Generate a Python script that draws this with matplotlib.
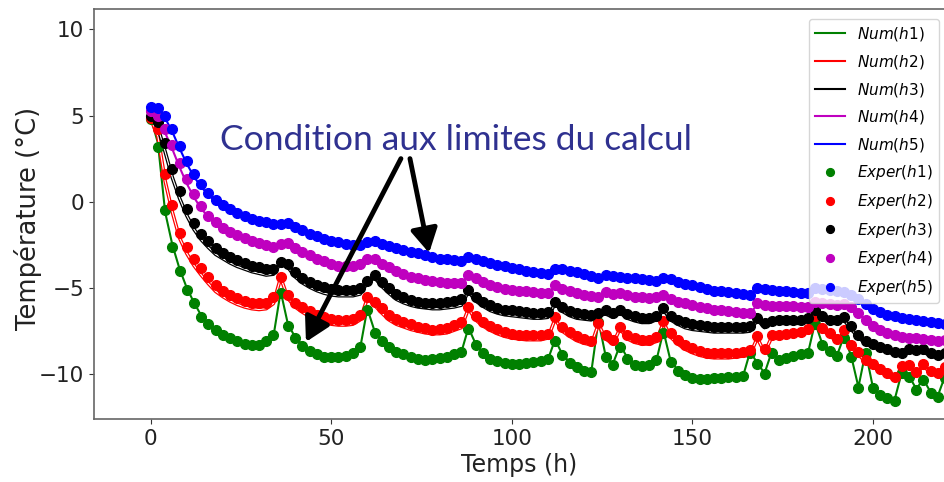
import matplotlib
matplotlib.use("Agg")
import matplotlib.pyplot as plt
import numpy as np

# sampling times (h) shared by all probes
temps = np.arange(0, 222, 2)

# measured temperatures (degC), probes h1..h5
exper_h1 = [4.8, 3.2, -0.5, -2.6, -4.0, -5.1, -5.9, -6.7, -7.1, -7.45,
            -7.7, -7.9, -8.1, -8.25, -8.3, -8.3, -8.1, -7.7, -5.3, -7.2,
            -7.9, -8.35, -8.65, -8.85, -9.0, -9.0, -9.0, -8.95, -8.75, -8.4,
            -6.3, -7.6, -8.1, -8.4, -8.7, -8.85, -9.0, -9.1, -9.15, -9.1,
            -9.05, -9.0, -8.85, -8.7, -7.4, -8.3, -8.8, -9.1, -9.25, -9.35,
            -9.4, -9.4, -9.35, -9.3, -9.25, -9.1, -8.1, -8.9, -9.35, -9.6,
            -9.8, -9.9, -6.95, -9.0, -9.45, -8.4, -9.1, -9.45, -9.55, -9.45,
            -9.2, -7.6, -9.3, -9.8, -10.05, -10.25, -10.3, -10.3, -10.25, -10.2,
            -10.15, -10.15, -10.1, -8.8, -9.4, -10.0, -8.8, -9.2, -9.05, -8.95,
            -8.85, -8.75, -7.1, -8.3, -8.65, -8.95, -7.9, -9.0, -10.8, -8.8,
            -10.8, -11.2, -11.4, -11.55, -9.95, -10.15, -10.9, -10.35, -11.1, -11.3,
            -10.2]
exper_h2 = [4.85, 4.2, 1.6, -0.2, -1.8, -2.6, -3.3, -3.85, -4.35, -4.85,
            -5.15, -5.4, -5.6, -5.75, -5.85, -5.9, -5.85, -5.5, -4.35, -5.4,
            -5.85, -6.1, -6.35, -6.55, -6.7, -6.8, -6.85, -6.85, -6.8, -6.55,
            -5.5, -5.8, -6.15, -6.55, -6.8, -6.95, -7.1, -7.25, -7.35, -7.45,
            -7.4, -7.3, -7.15, -7.0, -6.1, -6.6, -6.95, -7.2, -7.4, -7.55,
            -7.65, -7.7, -7.75, -7.75, -7.75, -7.65, -6.7, -7.25, -7.55, -7.8,
            -7.95, -8.1, -7.05, -7.7, -8.0, -7.25, -7.7, -7.9, -8.0, -8.0,
            -7.85, -6.9, -7.6, -8.0, -8.3, -8.5, -8.65, -8.75, -8.8, -8.8,
            -8.8, -8.75, -8.7, -8.6, -7.8, -8.55, -7.75, -7.7, -7.65, -7.6,
            -7.55, -7.4, -6.6, -7.3, -7.6, -7.95, -7.45, -8.3, -8.7, -9.15,
            -9.4, -9.7, -9.95, -10.15, -9.5, -9.45, -9.85, -9.4, -9.8, -9.95,
            -9.6]
exper_h3 = [5.0, 4.6, 3.4, 1.9, 0.65, -0.4, -1.25, -1.85, -2.3, -2.7,
            -2.95, -3.2, -3.4, -3.55, -3.7, -3.8, -3.9, -3.9, -3.5, -3.6,
            -4.1, -4.4, -4.65, -4.85, -4.95, -5.05, -5.1, -5.1, -5.1, -5.0,
            -4.6, -4.25, -4.65, -5.0, -5.35, -5.55, -5.7, -5.8, -5.85, -5.9,
            -5.85, -5.8, -5.75, -5.65, -5.1, -5.5, -5.8, -6.0, -6.15, -6.25,
            -6.3, -6.35, -6.4, -6.45, -6.45, -6.4, -5.8, -6.1, -6.35, -6.45,
            -6.5, -6.55, -6.45, -6.3, -6.45, -6.3, -6.5, -6.65, -6.75, -6.75,
            -6.6, -6.15, -6.6, -6.85, -7.0, -7.1, -7.15, -7.2, -7.25, -7.25,
            -7.25, -7.25, -7.25, -7.2, -6.75, -7.05, -6.9, -6.85, -6.85, -6.85,
            -6.85, -6.75, -6.3, -6.6, -6.85, -6.85, -6.7, -7.2, -7.7, -8.1,
            -8.25, -8.4, -8.55, -8.7, -8.75, -8.55, -8.6, -8.55, -8.8, -8.9,
            -8.8]
exper_h4 = [5.25, 5.0, 4.2, 3.3, 2.25, 1.3, 0.45, -0.25, -0.8, -1.2,
            -1.5, -1.75, -1.95, -2.1, -2.25, -2.4, -2.5, -2.6, -2.45, -2.4,
            -2.7, -2.9, -3.1, -3.3, -3.45, -3.6, -3.7, -3.75, -3.7, -3.6,
            -3.35, -3.3, -3.6, -3.8, -4.0, -4.2, -4.35, -4.45, -4.55, -4.6,
            -4.65, -4.7, -4.7, -4.7, -4.25, -4.45, -4.65, -4.8, -4.95, -5.05,
            -5.1, -5.15, -5.2, -5.25, -5.3, -5.3, -4.85, -5.05, -5.2, -5.3,
            -5.4, -5.45, -5.5, -5.25, -5.35, -5.3, -5.4, -5.5, -5.55, -5.6,
            -5.55, -5.4, -5.65, -5.8, -5.9, -6.0, -6.1, -6.15, -6.25, -6.3,
            -6.35, -6.4, -6.45, -6.45, -5.9, -6.0, -6.05, -6.05, -6.05, -6.05,
            -6.1, -6.1, -5.8, -5.9, -5.95, -6.0, -5.95, -6.1, -6.45, -6.85,
            -7.2, -7.45, -7.6, -7.75, -7.85, -7.9, -7.9, -7.95, -8.0, -8.05,
            -8.0]
exper_h5 = [5.5, 5.45, 5.0, 4.2, 3.25, 2.35, 1.6, 1.0, 0.5, 0.1,
            -0.2, -0.45, -0.65, -0.85, -1.0, -1.1, -1.2, -1.3, -1.3, -1.25,
            -1.45, -1.65, -1.85, -2.0, -2.15, -2.25, -2.35, -2.45, -2.5, -2.5,
            -2.35, -2.3, -2.45, -2.55, -2.7, -2.8, -2.9, -3.0, -3.1, -3.2,
            -3.3, -3.35, -3.4, -3.45, -3.2, -3.3, -3.45, -3.55, -3.65, -3.75,
            -3.85, -3.9, -4.0, -4.05, -4.15, -4.2, -3.9, -3.9, -4.0, -4.1,
            -4.2, -4.3, -4.4, -4.25, -4.3, -4.35, -4.4, -4.45, -4.5, -4.55,
            -4.6, -4.45, -4.5, -4.65, -4.75, -4.85, -4.95, -5.05, -5.15, -5.2,
            -5.25, -5.3, -5.35, -5.4, -5.0, -5.05, -5.1, -5.15, -5.2, -5.25,
            -5.3, -5.3, -5.0, -5.05, -5.1, -5.15, -5.25, -5.4, -5.65, -5.95,
            -6.2, -6.4, -6.55, -6.65, -6.75, -6.8, -6.85, -6.9, -7.0, -7.05,
            -7.1]

# computed temperatures (degC)
num_h1 = [4.9, 3.4, -0.6, -2.5, -3.9, -5.0, -5.85, -6.6, -7.05, -7.4,
          -7.7, -7.9, -8.1, -8.2, -8.3, -8.3, -8.15, -7.8, -5.2, -7.1,
          -7.85, -8.3, -8.6, -8.8, -8.95, -9.0, -9.0, -8.95, -8.8, -8.5,
          -6.2, -7.5, -8.05, -8.4, -8.65, -8.85, -9.0, -9.05, -9.1, -9.1,
          -9.05, -9.0, -8.9, -8.75, -7.3, -8.25, -8.75, -9.05, -9.2, -9.3,
          -9.35, -9.4, -9.35, -9.3, -9.25, -9.15, -8.0, -8.85, -9.3, -9.6,
          -9.75, -9.9, -6.9, -8.95, -9.4, -8.3, -9.05, -9.4, -9.5, -9.45,
          -9.25, -7.5, -9.25, -9.75, -10.0, -10.2, -10.3, -10.3, -10.25, -10.2,
          -10.2, -10.15, -10.15, -8.7, -9.35, -9.95, -8.7, -9.15, -9.05, -8.95,
          -8.85, -8.8, -7.0, -8.25, -8.6, -8.95, -7.8, -8.95, -10.75, -8.7,
          -10.75, -11.2, -11.4, -11.5, -9.9, -10.1, -10.85, -10.3, -11.05, -11.25,
          -10.1]
num_h2 = [4.8, 3.8, 1.2, -0.6, -2.1, -3.0, -3.7, -4.25, -4.75, -5.2,
          -5.5, -5.75, -5.95, -6.1, -6.2, -6.25, -6.2, -5.9, -4.4, -5.6,
          -6.1, -6.4, -6.65, -6.85, -7.0, -7.1, -7.15, -7.15, -7.1, -6.85,
          -5.6, -6.0, -6.45, -6.85, -7.1, -7.25, -7.4, -7.5, -7.6, -7.65,
          -7.65, -7.6, -7.45, -7.3, -6.2, -6.85, -7.2, -7.45, -7.65, -7.8,
          -7.9, -7.95, -8.0, -8.0, -8.0, -7.9, -6.8, -7.5, -7.8, -8.05,
          -8.2, -8.3, -7.1, -7.95, -8.25, -7.35, -7.95, -8.15, -8.25, -8.25,
          -8.1, -7.0, -7.85, -8.25, -8.55, -8.75, -8.9, -9.0, -9.05, -9.05,
          -9.05, -9.0, -8.95, -8.85, -7.9, -8.75, -7.85, -7.85, -7.8, -7.75,
          -7.7, -7.55, -6.7, -7.45, -7.75, -8.1, -7.55, -8.45, -8.85, -9.3,
          -9.55, -9.85, -10.1, -10.3, -9.6, -9.6, -10.0, -9.5, -9.95, -10.1,
          -9.7]
num_h3 = [4.95, 4.3, 2.9, 1.4, 0.2, -0.8, -1.6, -2.2, -2.65, -3.05,
          -3.3, -3.55, -3.75, -3.9, -4.05, -4.15, -4.25, -4.2, -3.55, -3.8,
          -4.35, -4.7, -4.95, -5.15, -5.3, -5.4, -5.45, -5.45, -5.45, -5.35,
          -4.7, -4.4, -4.9, -5.3, -5.65, -5.85, -6.0, -6.1, -6.15, -6.2,
          -6.2, -6.15, -6.1, -6.0, -5.2, -5.75, -6.05, -6.3, -6.45, -6.55,
          -6.6, -6.65, -6.7, -6.75, -6.75, -6.7, -5.9, -6.35, -6.6, -6.75,
          -6.8, -6.85, -6.6, -6.5, -6.7, -6.45, -6.75, -6.9, -7.0, -7.0,
          -6.85, -6.25, -6.85, -7.1, -7.3, -7.4, -7.45, -7.5, -7.55, -7.55,
          -7.55, -7.55, -7.55, -7.5, -6.85, -7.3, -7.0, -7.05, -7.05, -7.05,
          -7.05, -6.95, -6.4, -6.8, -7.0, -7.05, -6.85, -7.4, -7.85, -8.25,
          -8.4, -8.55, -8.7, -8.85, -8.9, -8.7, -8.75, -8.7, -8.95, -9.05,
          -8.95]
num_h4 = [5.2, 4.85, 4.0, 3.05, 2.0, 1.05, 0.25, -0.4, -0.9, -1.3,
          -1.6, -1.85, -2.05, -2.2, -2.35, -2.5, -2.6, -2.65, -2.5, -2.5,
          -2.8, -3.0, -3.2, -3.4, -3.55, -3.65, -3.75, -3.8, -3.8, -3.7,
          -3.4, -3.4, -3.7, -3.9, -4.1, -4.25, -4.4, -4.5, -4.6, -4.65,
          -4.7, -4.75, -4.75, -4.75, -4.3, -4.5, -4.7, -4.85, -5.0, -5.1,
          -5.15, -5.2, -5.25, -5.3, -5.35, -5.35, -4.9, -5.1, -5.25, -5.35,
          -5.45, -5.5, -5.55, -5.3, -5.4, -5.35, -5.45, -5.55, -5.6, -5.65,
          -5.6, -5.45, -5.7, -5.85, -5.95, -6.05, -6.15, -6.2, -6.3, -6.35,
          -6.4, -6.45, -6.5, -6.5, -5.95, -6.05, -6.1, -6.1, -6.1, -6.1,
          -6.15, -6.15, -5.85, -5.95, -6.0, -6.05, -6.0, -6.15, -6.5, -6.9,
          -7.25, -7.5, -7.65, -7.8, -7.9, -7.95, -7.95, -8.0, -8.05, -8.1,
          -8.05]
num_h5 = [5.45, 5.35, 4.85, 4.05, 3.1, 2.2, 1.45, 0.85, 0.4, 0.0,
          -0.3, -0.55, -0.75, -0.9, -1.05, -1.15, -1.25, -1.35, -1.35, -1.3,
          -1.5, -1.7, -1.9, -2.05, -2.2, -2.3, -2.4, -2.5, -2.55, -2.55,
          -2.4, -2.35, -2.5, -2.6, -2.75, -2.85, -2.95, -3.05, -3.15, -3.25,
          -3.35, -3.4, -3.45, -3.5, -3.25, -3.35, -3.5, -3.6, -3.7, -3.8,
          -3.9, -3.95, -4.05, -4.1, -4.2, -4.25, -3.95, -3.95, -4.05, -4.15,
          -4.25, -4.35, -4.45, -4.3, -4.35, -4.4, -4.45, -4.5, -4.55, -4.6,
          -4.65, -4.5, -4.55, -4.7, -4.8, -4.9, -5.0, -5.1, -5.2, -5.25,
          -5.3, -5.35, -5.4, -5.45, -5.05, -5.1, -5.15, -5.2, -5.25, -5.3,
          -5.35, -5.35, -5.05, -5.1, -5.15, -5.2, -5.3, -5.45, -5.7, -6.0,
          -6.25, -6.45, -6.6, -6.7, -6.8, -6.85, -6.9, -6.95, -7.05, -7.1,
          -7.15]

labels = ["h1", "h2", "h3", "h4", "h5"]
colors = ["g", "r", "k", "m", "b"]
num = [num_h1, num_h2, num_h3, num_h4, num_h5]
exper = [exper_h1, exper_h2, exper_h3, exper_h4, exper_h5]

for s in num + exper:
    assert len(s) == len(temps), len(s)

plt.rcParams["mathtext.fontset"] = "dejavusans"

fig = plt.figure(figsize=(9.44, 4.82), dpi=100)
ax = fig.add_axes([94 / 944, 1 - 419 / 482, 1 - 94 / 944, (419 - 9.3) / 482])

for lab, c, v in zip(labels, colors, num):
    if c in ("r", "k"):
        # computed profile drawn as a doubled thin line
        ax.plot(temps, v, color=c, lw=2.6)
        ax.plot(temps, v, color="white", lw=0.8)
        ax.plot([], [], color=c, lw=1.5, label=r"$Num(%s)$" % lab)
    else:
        ax.plot(temps, v, color=c, lw=1.5, label=r"$Num(%s)$" % lab)
for lab, c, v in zip(labels, colors, exper):
    ax.plot(temps, v, "o", color=c, ms=7, label=r"$Exper(%s)$" % lab)

ax.set_xlim(-15.7, 219.7)
ax.set_ylim(-12.6, 11.16)
ax.set_xticks([0, 50, 100, 150, 200])
ax.set_yticks([-10, -5, 0, 5, 10])
ax.tick_params(labelsize=15.5, colors="#333333", labelcolor="#222222")
ax.set_xlabel("Temps (h)", fontsize=17, color="#222222")
ax.set_ylabel("Température (°C)", fontsize=18.5, color="#222222")
ax.xaxis.set_label_coords(0.5, -0.083)
ax.yaxis.set_label_coords(-0.061, 0.49)
for side in ("left", "top", "bottom"):
    ax.spines[side].set_color("#666666")
    ax.spines[side].set_linewidth(1.2)
ax.spines["right"].set_visible(False)

ax.legend(loc="upper right", bbox_to_anchor=(1.0, 0.987), fontsize=11,
          borderaxespad=0.3, labelspacing=0.63, markerscale=0.8)

# annotation with two arrows
ax.annotate("", xy=(43.0, -8.13), xytext=(69.3, 2.5),
            arrowprops=dict(arrowstyle="-|>,head_length=0.8,head_width=0.45",
                            lw=3.5, color="black", mutation_scale=18,
                            shrinkA=0, shrinkB=0))
ax.annotate("", xy=(77.1, -2.97), xytext=(71.8, 2.5),
            arrowprops=dict(arrowstyle="-|>,head_length=0.8,head_width=0.45",
                            lw=3.5, color="black", mutation_scale=18,
                            shrinkA=0, shrinkB=0))
fig.text(456 / 944, 1 - 140 / 482, "Condition aux limites du calcul",
         fontsize=25.5, family="Lato", color="#2f3190", ha="center", va="center")

fig.savefig("out.png", dpi=100)
